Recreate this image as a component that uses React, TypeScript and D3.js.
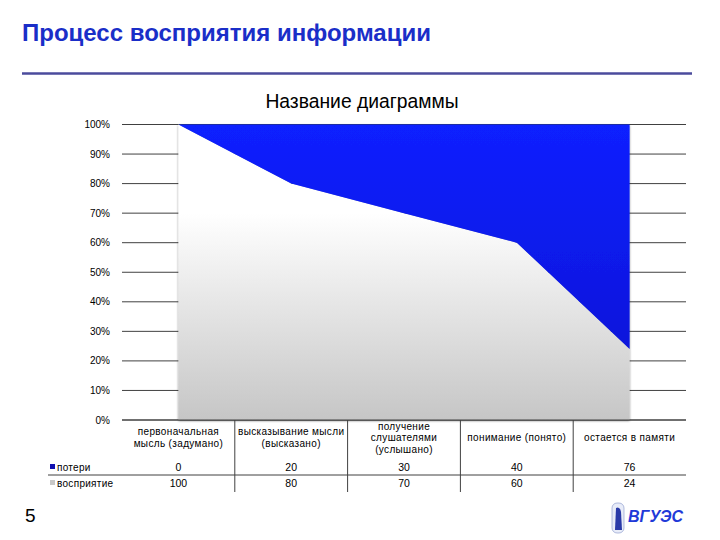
import React from "react";
import * as d3 from "d3";

const categories: string[][] = [
  ["первоначальная", "мысль (задумано)"],
  ["высказывание мысли", "(высказано)"],
  ["получение", "слушателями", "(услышано)"],
  ["понимание (понято)"],
  ["остается в памяти"],
];
const seriesNames = ["потери", "восприятие"];
const losses = [0, 20, 30, 40, 76];
const perception = [100, 80, 70, 60, 24];
const yTicks = [0, 10, 20, 30, 40, 50, 60, 70, 80, 90, 100];

const FONT = "'Liberation Sans', Arial, sans-serif";

export default function App() {
  const left = 122, right = 686, top = 124.5, bottom = 420;
  const x = d3.scaleBand<number>().domain(categories.map((_, i) => i)).range([left, right]);
  const cx = (i: number) => (x(i) as number) + x.bandwidth() / 2;
  const y = d3.scaleLinear().domain([0, 100]).range([bottom, top]);

  const rows = categories.map((_, i) => ({ i, perception: perception[i], losses: losses[i] }));
  const stacked = d3.stack<any>().keys(["perception", "losses"])(rows);
  const area = d3
    .area<any>()
    .x((d) => cx(d.data.i))
    .y0((d) => y(d[0]))
    .y1((d) => y(d[1]));

  const rowY1 = 467, rowY2 = 483, divY = 475, tableBottom = 492;

  return (
    <svg width={720} height={540} style={{ position: "absolute", left: 0, top: 0, background: "#fff" }}>
      <defs>
        <linearGradient id="gGray" x1="0" y1={top} x2="0" y2={bottom} gradientUnits="userSpaceOnUse">
          <stop offset="0" stopColor="#ffffff" />
          <stop offset="0.3" stopColor="#ffffff" />
          <stop offset="1" stopColor="#c6c6c6" />
        </linearGradient>
        <linearGradient id="gBlue" x1="0" y1={top} x2="0" y2={bottom} gradientUnits="userSpaceOnUse">
          <stop offset="0" stopColor="#0a20ff" />
          <stop offset="1" stopColor="#0812d0" />
        </linearGradient>
        <filter id="sh" x="-10%" y="-10%" width="120%" height="120%">
          <feDropShadow dx="0" dy="1" stdDeviation="1.2" floodColor="#000" floodOpacity="0.45" />
        </filter>
      </defs>

      <text x={22} y={41} fill="#1a2ec8" fontFamily={FONT} fontWeight="bold" fontSize={24}>
        Процесс восприятия информации
      </text>
      <line x1={22} x2={692} y1={73.5} y2={73.5} stroke="#4b4b9c" strokeWidth={2.5} />

      <text x={362} y={108} textAnchor="middle" fontFamily={FONT} fontSize={19.3} fill="#000">
        Название диаграммы
      </text>

      {yTicks.map((t) => (
        <g key={t}>
          <line x1={left} x2={right} y1={y(t)} y2={y(t)} stroke="#404040" strokeWidth={1} />
          <text x={110} y={y(t) + 3.5} textAnchor="end" fontFamily={FONT} fontSize={10} fill="#000">
            {t}%
          </text>
        </g>
      ))}

      <g filter="url(#sh)">
        <path d={area(stacked[0]) || ""} fill="url(#gGray)" />
        <path d={area(stacked[1]) || ""} fill="url(#gBlue)" />
      </g>
      <line x1={left} x2={right} y1={bottom} y2={bottom} stroke="#404040" strokeWidth={1} />

      {/* table */}
      {categories.slice(1).map((_, i) => (
        <line key={i} x1={x(i + 1) as number} x2={x(i + 1) as number} y1={bottom} y2={tableBottom} stroke="#404040" strokeWidth={1} />
      ))}
      <line x1={48} x2={right} y1={divY} y2={divY} stroke="#404040" strokeWidth={1} />

      {categories.map((lines, i) => {
        const n = lines.length;
        const startY = 441 - ((n - 1) * 11.5) / 2;
        return (
          <text key={i} textAnchor="middle" fontFamily={FONT} fontSize={10} letterSpacing={0.35} fill="#000">
            {lines.map((l, k) => (
              <tspan key={k} x={cx(i)} y={startY + k * 11.5}>
                {l}
              </tspan>
            ))}
          </text>
        );
      })}

      {losses.map((v, i) => (
        <text key={"l" + i} x={cx(i)} y={rowY1 + 4} textAnchor="middle" fontFamily={FONT} fontSize={10.5} fill="#000">
          {v}
        </text>
      ))}
      {perception.map((v, i) => (
        <text key={"p" + i} x={cx(i)} y={rowY2 + 4} textAnchor="middle" fontFamily={FONT} fontSize={10.5} fill="#000">
          {v}
        </text>
      ))}

      <rect x={50} y={rowY1 - 3} width={5} height={5} fill="#1010b0" />
      <text x={57} y={rowY1 + 3.5} fontFamily={FONT} fontSize={10} letterSpacing={0.3} fill="#000">
        {seriesNames[0]}
      </text>
      <rect x={50} y={rowY2 - 3} width={5} height={5} fill="#c8c8c8" />
      <text x={57} y={rowY2 + 3.5} fontFamily={FONT} fontSize={10} letterSpacing={0.3} fill="#000">
        {seriesNames[1]}
      </text>

      <text x={25} y={522} fontFamily={FONT} fontSize={19} fill="#000">
        5
      </text>

      {/* logo */}
      <rect x={612} y={503} width={12} height={30} rx={5} fill="#e8ecf8" stroke="#8090c8" strokeWidth={0.6} />
      <path d="M616 508 Q620 506 621 512 L622 530 L615 530 Z" fill="#2a3aa8" />
      <text x={628} y={522} fontFamily={FONT} fontStyle="italic" fontWeight="bold" fontSize={16} fill="#1f3ad8">
        ВГУЭС
      </text>
    </svg>
  );
}
